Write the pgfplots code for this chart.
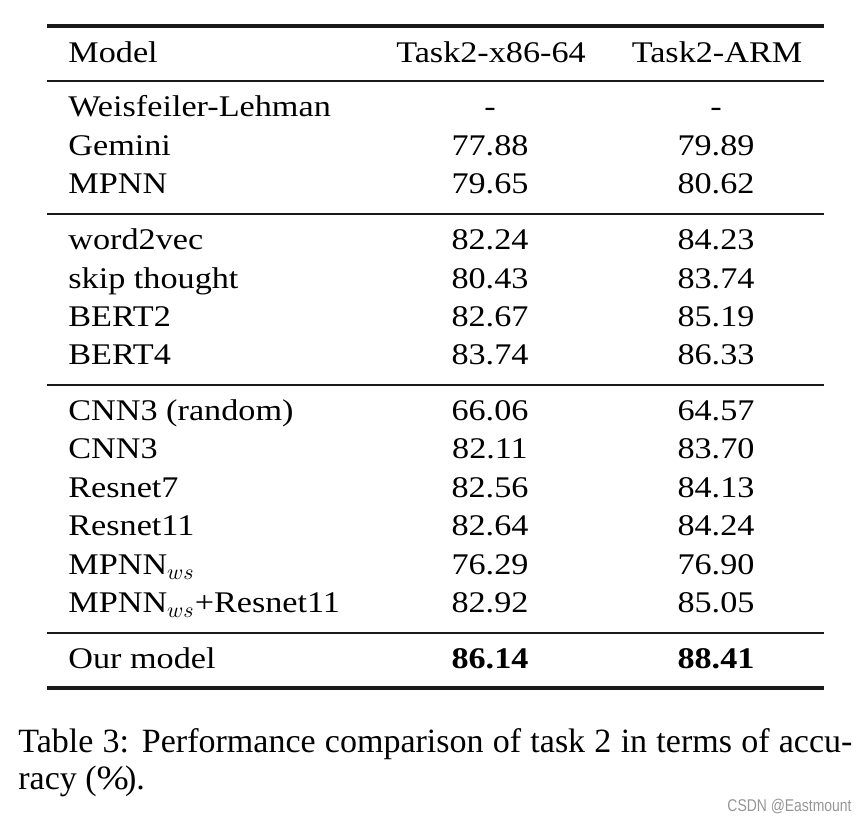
\documentclass[border=0pt]{standalone}
\usepackage{pgfplots}
\pgfplotsset{compat=1.18}
\usepackage{fontspec}
\setmainfont{Liberation Serif}[FakeStretch=1.14]
\newfontfamily\capfont{Liberation Serif}
\newfontfamily\wmfont{Liberation Sans}[FakeStretch=0.82]
\definecolor{rulecol}{RGB}{25,25,25}
\definecolor{wmgray}{RGB}{150,150,150}
\newcommand{\tabfont}{\fontsize{15}{18}\selectfont}

\begin{document}
\begin{tikzpicture}
\begin{axis}[
    hide axis, scale only axis,
    width=434pt, height=411pt,
    xmin=0, xmax=868, ymin=0, ymax=822,
    y dir=reverse, clip=false,
    txt/.style={draw=none, mark=none, forget plot,
        point meta=explicit symbolic, nodes near coords,
        every node near coord/.append style={anchor=#1, inner sep=0pt,
            font=\tabfont, text=black}},
]
\addplot[draw=none, forget plot] coordinates {(0,0)(868,822)};

% rules
\addplot[rulecol, line width=1.6pt, forget plot] coordinates {(47,26)(824,26)};
\addplot[rulecol, line width=1.0pt, forget plot] coordinates {(47,81)(824,81)};
\addplot[rulecol, line width=1.0pt, forget plot] coordinates {(47,214)(824,214)};
\addplot[rulecol, line width=1.0pt, forget plot] coordinates {(47,385)(824,385)};
\addplot[rulecol, line width=1.0pt, forget plot] coordinates {(47,633)(824,633)};
\addplot[rulecol, line width=1.6pt, forget plot] coordinates {(47,688)(824,688)};

% header
\node[anchor=base west, inner sep=0pt, font=\tabfont] at (axis cs:68,63) {Model};
\node[anchor=base, inner sep=0pt, font=\tabfont] at (axis cs:491,63) {Task2-x86-64};
\node[anchor=base, inner sep=0pt, font=\tabfont] at (axis cs:717,63) {Task2-ARM};

% model names
\addplot[txt=base west] coordinates {
    (68,117) [Weisfeiler-Lehman]
    (68,156) [Gemini]
    (68,194) [MPNN]
    (68,250) [word2vec]
    (68,289) [skip thought]
    (68,327) [BERT2]
    (68,365) [BERT4]
    (68,421) [CNN3 (random)]
    (68,459) [CNN3]
    (68,498) [Resnet7]
    (68,536) [Resnet11]
    (68,575) [MPNN$_{ws}$]
    (68,613) [MPNN$_{ws}$+Resnet11]
    (68,669) [Our model]
};

% Task2-x86-64
\addplot[txt=base] coordinates {
    (490,117) [-]
    (490,156) [77.88]
    (490,194) [79.65]
    (490,250) [82.24]
    (490,289) [80.43]
    (490,327) [82.67]
    (490,365) [83.74]
    (490,421) [66.06]
    (490,459) [82.11]
    (490,498) [82.56]
    (490,536) [82.64]
    (490,575) [76.29]
    (490,613) [82.92]
};

% Task2-ARM
\addplot[txt=base] coordinates {
    (716,117) [-]
    (716,156) [79.89]
    (716,194) [80.62]
    (716,250) [84.23]
    (716,289) [83.74]
    (716,327) [85.19]
    (716,365) [86.33]
    (716,421) [64.57]
    (716,459) [83.70]
    (716,498) [84.13]
    (716,536) [84.24]
    (716,575) [76.90]
    (716,613) [85.05]
};

% best row
\addplot[txt=base, every node near coord/.append style={font=\tabfont\bfseries}]
    coordinates {(490,669) [86.14] (716,669) [88.41]};

% caption
\node[anchor=base west, inner sep=0pt] at (axis cs:18,753)
    {\capfont\fontsize{17}{20}\selectfont\makebox[417pt][s]{Table 3: Performance comparison of task 2 in terms of accu-}};
\node[anchor=base west, inner sep=0pt] at (axis cs:18,790)
    {\capfont\fontsize{17}{20}\selectfont racy ($\%$).};

% watermark
\node[anchor=base east, inner sep=0pt, text=wmgray] at (axis cs:852,812)
    {\wmfont\fontsize{8.5}{10}\selectfont CSDN @Eastmount};
\end{axis}
\end{tikzpicture}
\end{document}
